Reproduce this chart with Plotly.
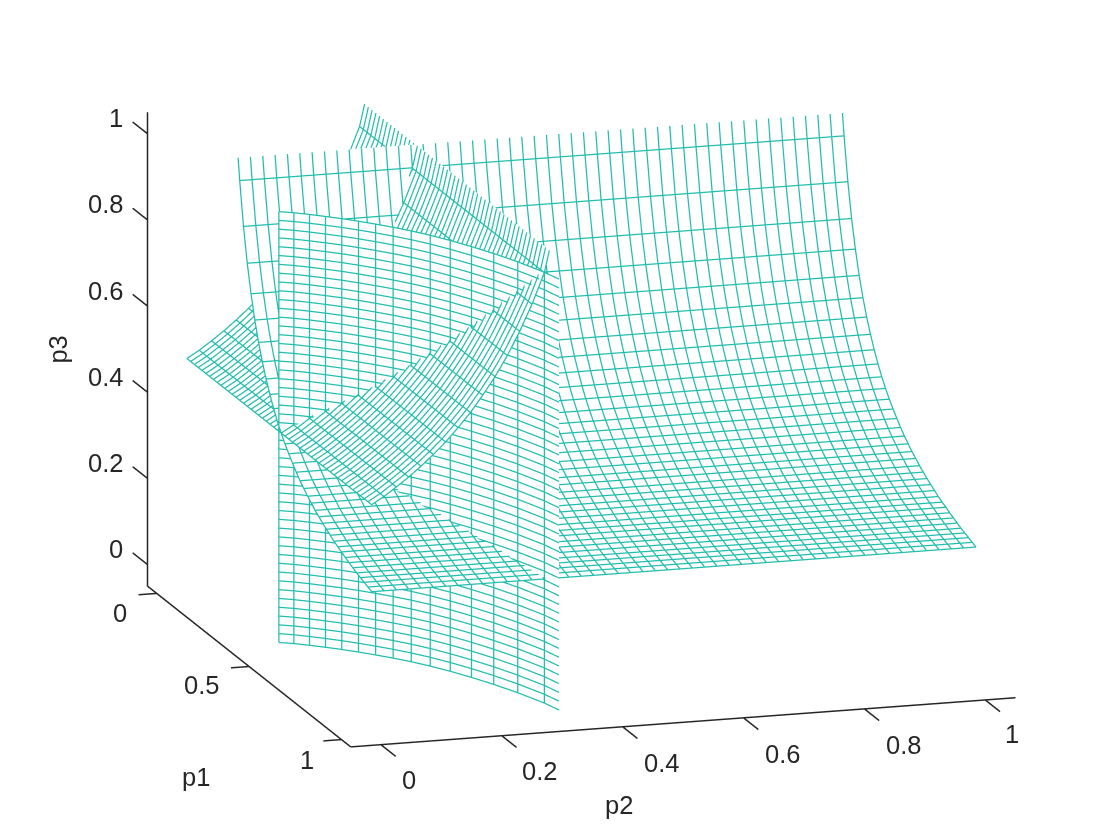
import numpy as np
import plotly.graph_objects as go

# mesh spacing shared by the three sheets
grid_values = [0, .0204, .0408, .0612, .0816, .102, .1224, .1429, .1633, .1837,
               .2041, .2245, .2449, .2653, .2857, .3061, .3265, .3469, .3673, .3878,
               .4082, .4286, .449, .4694, .4898, .5102, .5306, .551, .5714, .5918,
               .6122, .6327, .6531, .6735, .6939, .7143, .7347, .7551, .7755, .7959,
               .8163, .8367, .8571, .8776, .898, .9184, .9388, .9592, .9796, 1.0]

# sheet A: p3 against p1, runs along p2 (first point is where it leaves the box)
a_p1 = [.277, .2857, .3061, .3265, .3469, .3673, .3878, .4082, .4286, .449, .4694, .4898,
        .5102, .5306, .551, .5714, .5918, .6122, .6327, .6531, .6735, .6939, .7143,
        .7347, .7551, .7755, .7959, .8163, .8367, .8571, .8776, .898, .9184, .9388,
        .9592, .9796, 1.0]
a_p3 = [1.05, 1.0, .9005, .822, .758, .704, .659, .621, .588, .559, .533, .51,
        .49, .472, .456, .441, .427, .414, .403, .392, .383, .373, .365,
        .357, .35, .343, .336, .33, .325, .319, .314, .309, .304, .3,
        .296, .292, .288]

# sheet B: p3 against p2, runs along p1 (last point leaves the box)
b_p2 = [0, .0204, .0408, .0612, .0816, .102, .1224, .1429, .1633, .1837, .2041, .2245,
        .2449, .2653, .2857, .294]
b_p3 = [.49, .507, .527, .548, .571, .596, .623, .654, .687, .725, .766, .813,
        .867, .928, .999, 1.05]

# sheet C: p1 against p2, runs along p3 (last point leaves the box)
c_p2 = [0, .0204, .0408, .0612, .0816, .102, .1224, .1429, .1633, .1837, .2041, .2245,
        .2449, .2653, .2857, .2946]
c_p1 = [.498, .512, .53, .55, .571, .595, .621, .649, .68, .716, .758, .806,
        .86, .923, 1.0, 1.05]

p1_ticks = [0, 0.5, 1]
p2_ticks = [0, 0.2, 0.4, 0.6, 0.8, 1]
p3_ticks = [0, 0.2, 0.4, 0.6, 0.8, 1]

LO, HI = -.05, 1.05
MESH = '#22bdac'
TEXT = '#262626'
FONT = dict(family='Liberation Sans', size=25.5, color=TEXT)
eye_dir = np.array([0.928, -0.2837, 0.2419])
grid = np.array(grid_values)


def sheet(curve_u, curve_v):
    # curve x grid arrays of the two curve coords and the extrusion coord
    u = np.tile(np.array(curve_u)[:, None], (1, len(grid)))
    v = np.tile(np.array(curve_v)[:, None], (1, len(grid)))
    w = np.tile(grid, (len(curve_u), 1))
    return u, v, w


def add_mesh(fig, X, Y, Z, skip):
    # white sheet just behind the lines so it hides whatever is further back
    fig.add_trace(go.Surface(x=X - eye_dir[0] * .004, y=Y - eye_dir[1] * .004, z=Z - eye_dir[2] * .004,
                             surfacecolor=np.zeros(X.shape), colorscale=[[0, 'white'], [1, 'white']],
                             showscale=False, hoverinfo='skip',
                             lighting=dict(ambient=1, diffuse=0, specular=0, fresnel=0, roughness=1)))
    xs, ys, zs = [], [], []
    for j in range(X.shape[1]):
        xs += list(X[:, j]) + [None]
        ys += list(Y[:, j]) + [None]
        zs += list(Z[:, j]) + [None]
    for i in range(X.shape[0]):
        if i == skip:
            continue
        xs += list(X[i, :]) + [None]
        ys += list(Y[i, :]) + [None]
        zs += list(Z[i, :]) + [None]
    fig.add_trace(go.Scatter3d(x=xs, y=ys, z=zs, mode='lines', hoverinfo='skip',
                               line=dict(color=MESH, width=2.5), showlegend=False))


fig = go.Figure()

u, v, w = sheet(a_p1, a_p3)
add_mesh(fig, u, w, v, 0)
u, v, w = sheet(b_p2, b_p3)
add_mesh(fig, w, u, v, 15)
u, v, w = sheet(c_p1, c_p2)
add_mesh(fig, u, v, w, 15)

# axis box edges and ticks, matlab style (ticks lie along the neighbouring axis)
ax, ay, az = [LO, HI, None, HI, HI, None, LO, LO], [LO, LO, None, LO, HI, None, LO, LO], [LO, LO, None, LO, LO, None, LO, HI]
for t in p1_ticks:
    ax += [None, t, t]
    ay += [None, LO, LO - .03]
    az += [None, LO, LO]
for t in p2_ticks:
    ax += [None, HI, HI + .08]
    ay += [None, t, t]
    az += [None, LO, LO]
for t in p3_ticks:
    ax += [None, LO, LO - .08]
    ay += [None, LO, LO]
    az += [None, t, t]
fig.add_trace(go.Scatter3d(x=ax, y=ay, z=az, mode='lines', hoverinfo='skip',
                           line=dict(color=TEXT, width=3), showlegend=False))


def label(x, y, z, text, dx, dy, angle=0, anchor='center'):
    return dict(x=x, y=y, z=z, text=text, showarrow=False, font=FONT, xshift=dx, yshift=-dy,
                xanchor=anchor, yanchor='middle', textangle=angle)


notes = []
for t, dx, dy in zip(p1_ticks, [-37, -48, -34], [20, 19, 20]):
    notes.append(label(t, LO, LO, str(t), dx, dy))
for t, dx, dy in zip(p2_ticks, [28, 38, 39, 39, 39, 27], [35, 35, 36, 36, 36, 34]):
    notes.append(label(HI, t, LO, str(t), dx, dy))
for t in p3_ticks:
    notes.append(label(LO, LO, t, str(t), -22, -15.5, anchor='right'))
notes.append(label(.5, LO, LO, 'p1', -53, 111))
notes.append(label(HI, .5, LO, 'p2', -64, 83))
notes.append(label(LO, LO, .5, 'p3', -89, 0, -90))

hidden = dict(visible=False, range=[-.14, 1.14], showspikes=False)
fig.update_layout(
    width=1120, height=840, paper_bgcolor='white', margin=dict(l=0, r=0, t=0, b=0),
    showlegend=False,
    scene=dict(
        # z range a touch wider than the box so the floor lines are not clipped
        xaxis=hidden, yaxis=hidden, zaxis=dict(visible=False, range=[-.06, 1.06], showspikes=False),
        aspectmode='manual', aspectratio=dict(x=1.926, y=1.926, z=1.184),
        camera=dict(projection=dict(type='orthographic'),
                    eye=dict(x=2.7874, y=-.8857, z=.6725),
                    center=dict(x=.0034, y=-.0346, z=-.0532), up=dict(x=0, y=0, z=1)),
        domain=dict(x=[0, 1], y=[0, 1]),
        annotations=notes,
    ),
)
fig.write_html("out.html")
